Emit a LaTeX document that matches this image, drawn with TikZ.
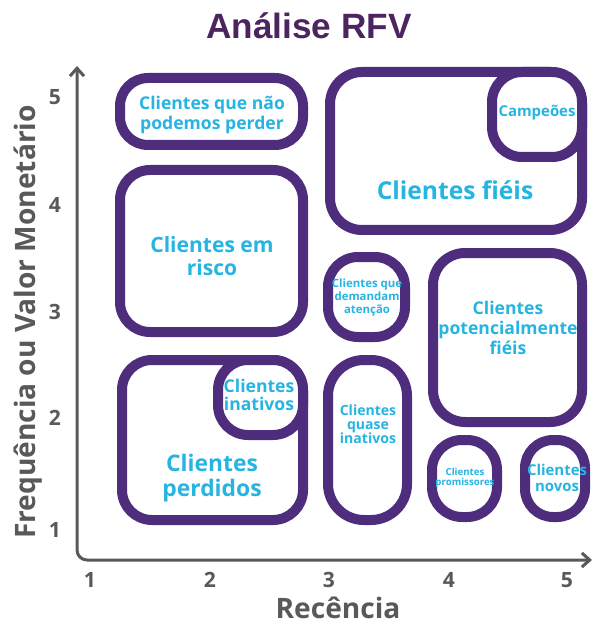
\documentclass[tikz,border=0pt]{standalone}
\usepackage{fontspec}
\setmainfont{Open Sans}
\newfontfamily\titlefont{Liberation Sans}
\usetikzlibrary{arrows.meta}
\definecolor{roxo}{RGB}{79,45,125}
\definecolor{ciano}{RGB}{38,180,226}
\definecolor{vinho}{RGB}{76,36,96}
\definecolor{cinza}{RGB}{88,89,91}
\newlength\px
\setlength\px{0.02cm}
\tikzset{
	caixa/.style={draw=roxo, fill=white, line width=10\px, rounded corners=30\px, inner sep=0pt},
	rotulo/.style 2 args={text=ciano, align=center, inner sep=0pt, font=\bfseries\fontsize{#1}{#2}\selectfont},
	eixo/.style={draw=cinza, line width=3\px, rounded corners=10\px, line cap=round,
		arrows={Straight Barb[length=4.5pt,width=8pt]-Straight Barb[length=4.5pt,width=8pt]}},
	numero/.style={text=cinza, inner sep=0pt, font=\bfseries\fontsize{12}{12}\selectfont}
}
\begin{document}
	\begin{tikzpicture}[x=0.02cm, y=-0.02cm]
		\useasboundingbox (0,0) rectangle (609,631);
		
		\node[anchor=base, text=vinho, font=\titlefont\bfseries\fontsize{20}{20}\selectfont] (titulo) at (309,39) {Análise RFV};
		
		\coordinate (topo) at (77,66);
		\coordinate (fim) at (592,560);
		\draw[eixo] (topo) |- (fim);
		
		\foreach \n/\xx in {1/90,2/210,3/329,4/449,5/567}
			\node[numero] (x\n) at (\xx,580) {\n};
		\foreach \n/\yy in {1/530,2/418,3/312,4/205,5/97}
			\node[numero] (y\n) at (55,\yy) {\n};
		
		\node[anchor=base, text=cinza, font=\bfseries\fontsize{16}{16}\selectfont] (recencia) at (338,618) {Recência};
		\node[anchor=base, rotate=90, text=cinza, font=\bfseries\fontsize{16}{16}\selectfont] (frequencia) at (35,322) {Frequência ou Valor Monetário};
		
		\node[caixa, rounded corners=28\px, minimum width=183\px, minimum height=67\px] (perder) at (211.5,111.5) {};
		\node[caixa, rounded corners=32\px, minimum width=252\px, minimum height=158\px] (fieis) at (456,151) {};
		\node[caixa, minimum width=90\px, minimum height=85\px] (campeoes) at (537,114.5) {};
		\node[caixa, minimum width=183\px, minimum height=162\px] (risco) at (211.5,251) {};
		\node[caixa, minimum width=77\px, minimum height=80\px] (atencao) at (366.5,297) {};
		\node[caixa, rounded corners=32\px, minimum width=149\px, minimum height=169\px] (potenciais) at (507.5,337.5) {};
		\node[caixa, minimum width=181\px, minimum height=160\px] (perdidos) at (212.5,440) {};
		\node[caixa, minimum width=85\px, minimum height=75\px] (inativos) at (260.5,397.5) {};
		\node[caixa, rounded corners=36\px, minimum width=79\px, minimum height=160\px] (quase) at (367.5,440) {};
		\node[caixa, minimum width=65\px, minimum height=77\px] (promissores) at (464.5,478.5) {};
		\node[caixa, rounded corners=28\px, minimum width=60\px, minimum height=77\px] (novos) at (555,478.5) {};
		
		\node[rotulo={10}{11.4}] (tperder) at (212,115) {Clientes que não\\podemos perder};
		\node[rotulo={14}{16}] (tfieis) at (455,190) {Clientes fiéis};
		\node[rotulo={8.5}{9.5}] (tcampeoes) at (537,113) {Campeões};
		\node[rotulo={12}{13}] (trisco) at (212,256) {Clientes em\\risco};
		\node[rotulo={6.5}{7.4}] (tatencao) at (367,298) {Clientes que\\demandam\\atenção};
		\node[rotulo={10}{11.4}] (tpotenciais) at (508,328) {Clientes\\potencialmente\\fiéis};
		\node[rotulo={13}{14.2}] (tperdidos) at (212,478) {Clientes\\perdidos};
		\node[rotulo={10}{10.2}] (tinativos) at (259,395) {Clientes\\inativos};
		\node[rotulo={8}{8}] (tquase) at (368,424) {Clientes\\quase\\inativos};
		\node[rotulo={5.5}{5.7}] (tpromissores) at (465,478) {Clientes\\promissores};
		\node[rotulo={8.5}{9.5}] (tnovos) at (557,478) {Clientes\\novos};
	\end{tikzpicture}
\end{document}
